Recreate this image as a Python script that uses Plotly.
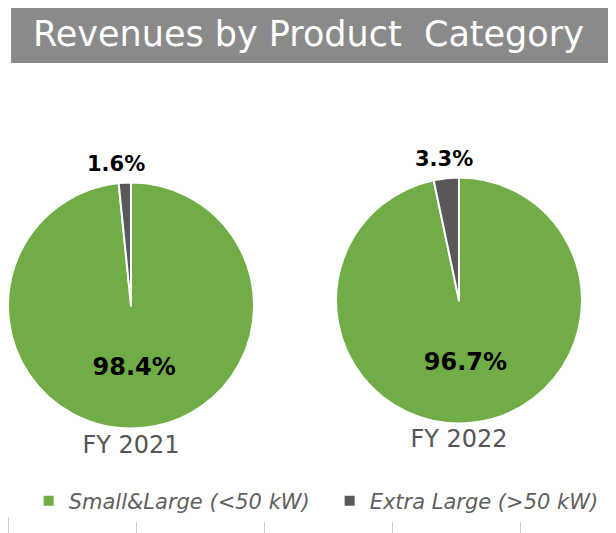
"""Revenues by product category, FY 2021 vs FY 2022, shown as two pies."""

import plotly.graph_objs as go

categories = ['Small&Large (<50 kW)', 'Extra Large (>50 kW)']
years = ['FY 2021', 'FY 2022']
share_2021 = [98.4, 1.6]
share_2022 = [96.7, 3.3]

colors = ['#71AD47', '#58585A']
domains = [dict(x=[0.0, 0.3994], y=[0.1576, 0.6735]),
           dict(x=[0.5325, 0.9318], y=[0.167, 0.6829])]

fig = go.Figure()

# empty trace only so the faint tick marks at the bottom get an axis
fig.add_trace(go.Scatter(x=[], y=[], showlegend=False, hoverinfo='skip'))

for year, shares, dom in zip(years, [share_2021, share_2022], domains):
    fig.add_trace(go.Pie(
        labels=categories, values=shares, domain=dom, sort=False,
        direction='clockwise', rotation=0,
        marker=dict(colors=colors, line=dict(color='white', width=2)),
        texttemplate='%{value:.1f}%', textposition=['inside', 'none'],
        textfont=dict(family='DejaVu Sans', size=24, color='black', weight='bold'),
        insidetextorientation='horizontal', hoverinfo='label+value',
        title=dict(text=year, position='bottom center',
                   font=dict(family='DejaVu Sans', size=24, color='#555555')),
    ))
    # small slice share sits above the pie
    fig.add_annotation(text=f'{shares[1]:.1f}%', xref='paper', yref='paper',
                       x=sum(dom['x']) / 2, y=dom['y'][1], xanchor='center', yanchor='bottom',
                       xshift=-15, yshift=4, showarrow=False,
                       font=dict(family='DejaVu Sans', size=21, color='black', weight='bold'))

# grey banner behind the heading
fig.add_shape(type='rect', xref='paper', yref='paper', x0=0.005, x1=1.02, y0=0.8968, y1=1.006,
              fillcolor='#8A8A8A', line_width=0, layer='below')
fig.add_annotation(text='Revenues by Product  Category', xref='paper', yref='paper',
                   x=0.4886, y=0.9512, xanchor='center', yanchor='middle', showarrow=False,
                   font=dict(family='DejaVu Sans', size=35, color='white'))

fig.update_xaxes(range=[0, 616 / 128], dtick=1, tick0=0, ticks='outside', ticklen=20,
                 tickcolor='#CFCFCF', showticklabels=False, showgrid=False, zeroline=False,
                 showline=False, fixedrange=True)
fig.update_yaxes(domain=[0.0469, 1], visible=False, fixedrange=True)

fig.update_layout(width=616, height=533,
                  margin=dict(l=0, r=0, t=0, b=0, autoexpand=False),
                  paper_bgcolor='white', plot_bgcolor='rgba(0,0,0,0)',
                  legend=dict(orientation='h', x=0.0335, xanchor='left', y=0.075, yanchor='middle',
                              entrywidth=256, entrywidthmode='pixels',
                              font=dict(family='DejaVu Sans', size=21, color='#5F5F5F',
                                        style='italic')))
fig.write_html("out.html")
